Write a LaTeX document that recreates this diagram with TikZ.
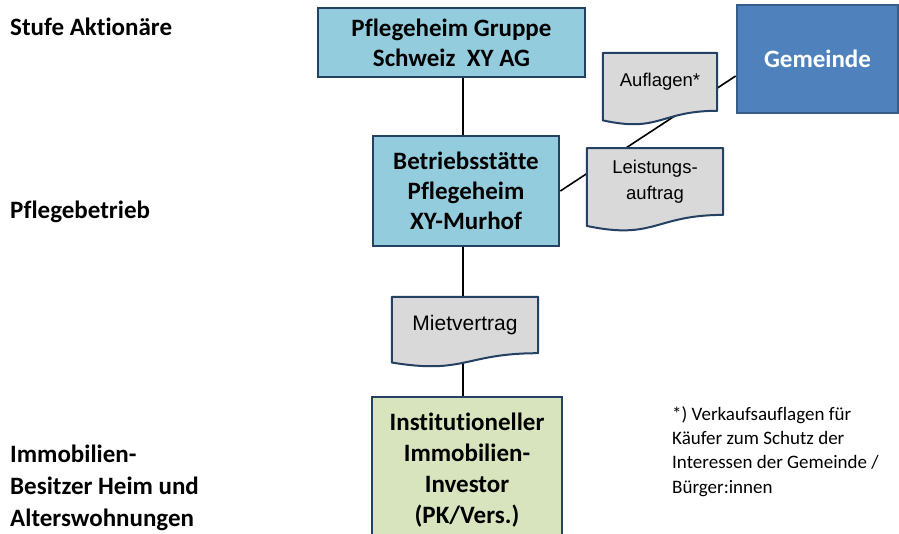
\documentclass[tikz,border=0pt]{standalone}
\usepackage{fontspec}
\setmainfont{Carlito}[Ligatures=NoCommon]
\newfontfamily\arialfont{Liberation Sans}
\usepackage{tikz}
\usetikzlibrary{calc,positioning}
\pgfdeclarelayer{background}
\pgfsetlayers{background,main}
\definecolor{hellblau}{RGB}{147,205,221}
\definecolor{marine}{RGB}{36,64,98}
\definecolor{gemblau}{RGB}{79,129,189}
\definecolor{gemrand}{RGB}{56,93,138}
\definecolor{hellgruen}{RGB}{215,228,189}
\definecolor{docgrau}{RGB}{217,217,217}
% Umriss eines Dokuments (unten gewellt) um den Knoten #1
\newcommand{\dokument}[1]{%
  \draw[doclinie] (#1.north west) -- (#1.north east) -- (#1.south east)
    .. controls (#1.south) and ($(#1.north)!1.381!(#1.south)$) ..
    ($(#1.north west)!1.165!(#1.south west)$) -- cycle;}

\begin{document}
\begin{tikzpicture}[x=1pt,y=-1pt,
  kasten/.style={draw=marine,line width=2.6pt,inner sep=0pt,align=center,
    font=\fontsize{25}{30}\selectfont\bfseries},
  doc/.style={inner sep=0pt,align=center,font=\arialfont\fontsize{18.5}{26}\selectfont},
  doclinie/.style={draw=marine,line width=2pt,line join=round,fill=docgrau},
  verbindung/.style={line width=1.6pt},
  ebene/.style={anchor=base west,inner sep=0pt,align=left,
    font=\fontsize{25}{32}\selectfont\bfseries},
  fussnote/.style={anchor=base west,inner sep=0pt,align=left,
    font=\fontsize{19}{24.3}\selectfont}]
\useasboundingbox (0,0) rectangle (899,533);
\clip (0,0) rectangle (899,533);
\coordinate (achse) at (463,0);
% Ebenen links (base = letzte Zeile)
\node[ebene] (stufe1) at (10,35) {Stufe Aktionäre};
\node[ebene] (stufe2) at (10,218) {Pflegebetrieb};
\node[ebene] (stufe3) at (10,526) {Immobilien-\\Besitzer Heim und\\Alterswohnungen};
% Kaesten
\node[kasten,fill=hellblau,minimum width=267,minimum height=69] (aktionaer) at (451.5,42.5)
  {Pflegeheim Gruppe\\Schweiz\ \ XY AG};
\node[kasten,fill=hellblau,minimum width=186,minimum height=110] (betrieb) at (466,191)
  {Betriebsstätte\\Pflegeheim\\XY-Murhof};
\node[kasten,fill=hellgruen,minimum width=190,minimum height=146,
  font=\fontsize{25}{31}\selectfont\bfseries] (investor) at (467,470)
  {Institutioneller\\Immobilien-\\Investor\\(PK/Vers.)};
\node[kasten,draw=gemrand,fill=gemblau,text=white,minimum width=161,minimum height=108]
  (gemeinde) at (817.5,59) {Gemeinde};
% Dokumente
\node[doc,minimum width=114,minimum height=57.6] (auflagen) at (660,81.8) {Auflagen*};
\node[doc,minimum width=136,minimum height=66.4] (leistung) at (655,181.5) {Leistungs-\\auftrag};
\node[doc,minimum width=146,minimum height=56,font=\arialfont\fontsize{21}{26}\selectfont]
  (miete) at (465,325) {Mietvertrag};
% Fussnote
\node[fussnote] (fussnote) at (672,493)
  {*) Verkaufsauflagen für\\Käufer zum Schutz der\\Interessen der Gemeinde /\\Bürger:innen};
\begin{pgfonlayer}{background}
\draw[verbindung] (achse |- aktionaer.south) -- (achse |- betrieb.north);
\draw[verbindung] (achse |- betrieb.south) -- (achse |- miete.north);
\draw[verbindung] (achse |- miete.south) -- (achse |- investor.north);
\draw[verbindung] (betrieb.east) -- ([yshift=-17pt]gemeinde.west);
\dokument{auflagen}
\dokument{leistung}
\dokument{miete}
\end{pgfonlayer}
\end{tikzpicture}
\end{document}
